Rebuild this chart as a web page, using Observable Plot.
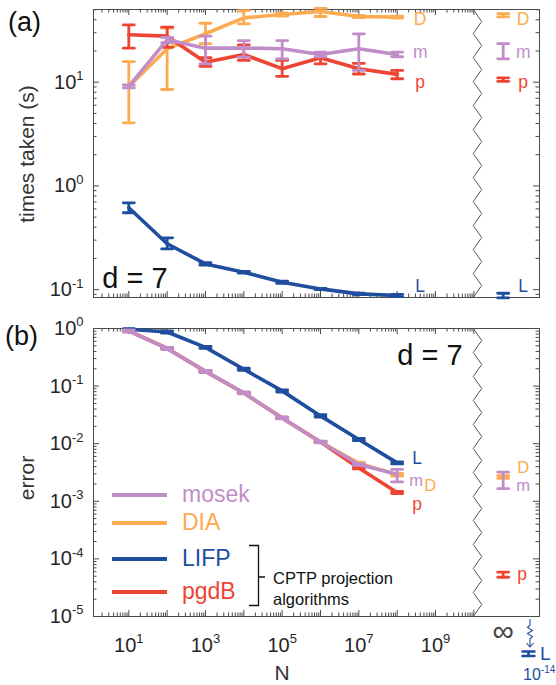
<!DOCTYPE html>
<html><head><meta charset="utf-8">
<script src="https://cdn.jsdelivr.net/npm/d3@7"></script>
<script src="https://cdn.jsdelivr.net/npm/@observablehq/plot@0.6"></script>
<style>
body{margin:0;background:#fff;}
#wrap{position:relative;width:556px;height:685px;font-family:"Liberation Sans",Arial,sans-serif;overflow:hidden;background:#fff}
#wrap svg{position:absolute;left:0}
.ab{position:absolute;white-space:nowrap;line-height:1}
.c{transform:translate(-50%,-50%)}
.r{transform:translate(-50%,-50%) rotate(-90deg)}
</style></head><body><div id="wrap"></div>
<script>
// ---------- data ----------
const N = [1e1, 1e2, 1e3, 1e4, 1e5, 1e6, 1e7, 1e8];
const seriesNames = ["mosek", "DIA", "LIFP", "pgdB"];
const seriesShort = ["m", "D", "L", "p"];
const seriesColors = ["#c18dc8", "#fdab50", "#1f4e9e", "#ee4433"];

// (a) times taken (s)
const tMosek   = [9.1, 25.6, 21.3, 21.4, 21.0, 18.5, 21.0, 18.5];
const tMosekLo = [8.8, 24.0, 15.0, 17.4, 16.8, 17.6, 13.0, 17.6];
const tMosekHi = [9.4, 27.0, 27.8, 25.2, 25.2, 19.5, 29.3, 19.5];
const tDIA     = [9.1, 21.0, 29.3, 41.7, 45.0, 48.1, 43.0, 42.4];
const tDIALo   = [4.06, 8.5, 23.5, 36.5, 43.5, 43.0, 42.0, 41.5];
const tDIAHi   = [15.8, 33.2, 37.0, 49.0, 46.5, 51.5, 44.0, 43.3];
const tLIFP    = [0.615, 0.277, 0.177, 0.147, 0.118, 0.1016, 0.091, 0.0877];
const tLIFPLo  = [0.551, 0.247, 0.172, 0.144, 0.115, 0.100, 0.0895, 0.0855];
const tLIFPHi  = [0.687, 0.316, 0.182, 0.150, 0.121, 0.103, 0.0925, 0.0900];
const tPgdB    = [28.7, 27.8, 15.6, 18.5, 13.5, 17.2, 13.5, 11.9];
const tPgdBLo  = [21.3, 21.7, 14.2, 16.2, 11.4, 15.0, 12.0, 10.8];
const tPgdBHi  = [35.7, 33.9, 17.2, 22.9, 16.2, 19.0, 15.2, 13.0];
// (a) N = infinity column, order mosek, DIA, LIFP, pgdB
const tInf   = [19.5, 44.2, 0.0876, 10.6];
const tInfLo = [16.8, 42.6, 0.0832, 10.2];
const tInfHi = [23.5, 45.8, 0.0923, 11.0];

// (b) error
const eMosek   = [0.91, 0.45, 0.18, 0.076, 0.028, 0.0107, 0.00436, 0.00295];
const eMosekLo = [0.87, 0.43, 0.172, 0.073, 0.027, 0.0103, 0.0042, 0.00217];
const eMosekHi = [0.95, 0.47, 0.188, 0.079, 0.029, 0.0111, 0.0045, 0.00357];
const eDIA     = [0.91, 0.45, 0.18, 0.076, 0.028, 0.0107, 0.0046, 0.0029];
const eDIALo   = [0.88, 0.44, 0.175, 0.074, 0.0272, 0.0104, 0.0044, 0.00275];
const eDIAHi   = [0.94, 0.46, 0.185, 0.078, 0.0288, 0.011, 0.0048, 0.00305];
const eLIFP    = [0.97, 0.87, 0.47, 0.196, 0.0826, 0.0304, 0.0118, 0.00464];
const eLIFPLo  = [0.94, 0.83, 0.45, 0.188, 0.079, 0.029, 0.0113, 0.00445];
const eLIFPHi  = [0.99, 0.91, 0.49, 0.204, 0.086, 0.0318, 0.0123, 0.00484];
const ePgdB    = [0.91, 0.45, 0.18, 0.076, 0.028, 0.0107, 0.0038, 0.00142];
const ePgdBLo  = [0.88, 0.44, 0.175, 0.074, 0.0272, 0.0104, 0.00365, 0.00136];
const ePgdBHi  = [0.94, 0.46, 0.185, 0.078, 0.0288, 0.011, 0.00395, 0.00148];
// (b) N = infinity column, order mosek, DIA, pgdB  (LIFP reaches 1e-14, off the axis)
const eInfNames = ["mosek", "DIA", "pgdB"];
const eInf   = [0.00236, 0.00265, 5.3e-5];
const eInfLo = [0.00166, 0.0025, 4.8e-5];
const eInfHi = [0.0032, 0.0028, 5.9e-5];
const lifpInfLabel = "10^-14";

// axis ticks
const xTickLabels = [1e1, 1e3, 1e5, 1e7, 1e9];
const yTicksA = [0.1, 1, 10];
const yTicksB = [1e-5, 1e-4, 1e-3, 1e-2, 1e-1, 1];

// ---------- layout constants ----------
const W = 556, ML = 93, MR = 17;
const FW = W - ML - MR;
const xDomain = [10 ** 0.079, 10 ** 11.713];
const xInf = 10 ** 10.765;
const xBreak = 10 ** 10.095;

const sup = d => "10^" + Math.round(Math.log10(d));
const capShape = {draw(ctx, l) { ctx.moveTo(0, 0); ctx.lineTo(0, -l); }};

function rows(xs, v, lo, hi) { return xs.map((x, i) => ({x, v: v[i], lo: lo[i], hi: hi[i]})); }

function errMarks(r, color, line = true, lw = 3.6, bw = 2.8, cap = 11) {
  const m = [];
  if (line) m.push(Plot.line(r, {x: "x", y: "v", stroke: color, strokeWidth: lw, strokeLinejoin: "round"}));
  m.push(Plot.ruleX(r, {x: "x", y1: "lo", y2: "hi", stroke: color, strokeWidth: bw}));
  m.push(Plot.vector(r, {x: "x", y: "lo", length: cap, rotate: 90, anchor: "middle", shape: capShape, stroke: color, strokeWidth: bw}));
  m.push(Plot.vector(r, {x: "x", y: "hi", length: cap, rotate: 90, anchor: "middle", shape: capShape, stroke: color, strokeWidth: bw}));
  return m;
}

function decadeMinors(lo, hi) {
  const out = [];
  for (let k = lo; k <= hi; k++) for (let j = 2; j <= 9; j++) out.push(j * 10 ** k);
  return out;
}
function decades(lo, hi) { const o = []; for (let k = lo; k <= hi; k++) o.push(10 ** k); return o; }

function frameTicks(yDom, FH, yMaj, yMin) {
  const xMaj = decades(1, 10), xMin = decadeMinors(0, 9);
  const inY = yMin.filter(v => v > yDom[0] && v < yDom[1]);
  const st = {stroke: "#4a4a4a", strokeWidth: 1};
  return [
    Plot.tickY(yMaj, {y: d => d, insetRight: FW - 6, ...st}),
    Plot.tickY(inY, {y: d => d, insetRight: FW - 3.5, ...st}),
    Plot.tickY(yMaj, {y: d => d, insetLeft: FW - 6, ...st}),
    Plot.tickY(inY, {y: d => d, insetLeft: FW - 3.5, ...st}),
    Plot.tickX(xMaj, {x: d => d, insetBottom: FH - 6, ...st}),
    Plot.tickX(xMin, {x: d => d, insetBottom: FH - 3.5, ...st}),
    Plot.tickX(xMaj, {x: d => d, insetTop: FH - 6, ...st}),
    Plot.tickX(xMin, {x: d => d, insetTop: FH - 3.5, ...st}),
    Plot.frame({stroke: "#4a4a4a", strokeWidth: 1})
  ];
}

function zigzag(yDom) {
  const a = Math.log10(yDom[0]), b = Math.log10(yDom[1]);
  const pts = [];
  for (let i = 0; i <= 24; i++) pts.push({x: xBreak * 10 ** (i % 2 ? 0.11 : -0.11), y: 10 ** (b - i * (b - a) / 24)});
  return Plot.line(pts, {x: "x", y: "y", stroke: "#555", strokeWidth: 1});
}

function superscriptify(svg) {
  d3.select(svg).selectAll("text").each(function () {
    const m = /^10\^(-?\d+)$/.exec(this.textContent);
    if (!m) return;
    const s = d3.select(this);
    s.text("");
    s.append("tspan").text("10");
    s.append("tspan").attr("dy", "-8.5").attr("font-size", "13px").text(m[1]);
  });
}

const style = {fontFamily: "Liberation Sans, Arial, sans-serif", fontSize: "20px", color: "#262626", background: "transparent", overflow: "visible"};
const LFS = 17.5;

// ---------- panel (a) ----------
const HA = 300, MTA = 9, MBA = 3;
const yDomA = [10 ** -1.076, 10 ** 1.701];
const tSeries = [
  [tMosek, tMosekLo, tMosekHi], [tDIA, tDIALo, tDIAHi], [tLIFP, tLIFPLo, tLIFPHi], [tPgdB, tPgdBLo, tPgdBHi]
];
const drawOrder = [1, 3, 2, 0]; // DIA, pgdB, LIFP, mosek on top
const marksA = [...frameTicks(yDomA, HA - MTA - MBA, yTicksA, decadeMinors(-2, 1)), zigzag(yDomA)];
for (const i of drawOrder) {
  const [v, lo, hi] = tSeries[i];
  marksA.push(...errMarks(rows(N, v, lo, hi), seriesColors[i]));
  marksA.push(...errMarks([{x: xInf, v: tInf[i], lo: tInfLo[i], hi: tInfHi[i]}], seriesColors[i], false));
}
const labDyA = {m: -2, D: 2, L: -9, p: 8};
const labDyAInf = {m: 0, D: 4, L: -9, p: 3};
seriesShort.forEach((s, i) => {
  marksA.push(Plot.text([s], {x: () => N[7], y: () => tSeries[i][0][7], text: d => d, dx: 23, dy: labDyA[s], fill: seriesColors[i], fontSize: LFS}));
  marksA.push(Plot.text([s], {x: () => xInf, y: () => tInf[i], text: d => d, dx: 20, dy: labDyAInf[s], fill: seriesColors[i], fontSize: LFS}));
});
marksA.push(Plot.axisY({ticks: yTicksA, tickSize: 0, tickPadding: 10, tickFormat: sup, label: null}));

const plotA = Plot.plot({
  width: W, height: HA, marginLeft: ML, marginRight: MR, marginTop: MTA, marginBottom: MBA,
  style,
  x: {type: "log", domain: xDomain, axis: null},
  y: {type: "log", domain: yDomA, axis: null},
  marks: marksA
});

// ---------- panel (b) ----------
const HB = 385, MTB = 28, MBB = 69;
const yDomB = [1e-5, 1];
const eSeries = [
  [eMosek, eMosekLo, eMosekHi], [eDIA, eDIALo, eDIAHi], [eLIFP, eLIFPLo, eLIFPHi], [ePgdB, ePgdBLo, ePgdBHi]
];
const marksB = [...frameTicks(yDomB, HB - MTB - MBB, yTicksB, decadeMinors(-5, -1)), zigzag(yDomB)];
for (const i of drawOrder) {
  const [v, lo, hi] = eSeries[i];
  marksB.push(...errMarks(rows(N, v, lo, hi), seriesColors[i]));
  const j = eInfNames.indexOf(seriesNames[i]);
  if (j >= 0) marksB.push(...errMarks([{x: xInf, v: eInf[j], lo: eInfLo[j], hi: eInfHi[j]}], seriesColors[i], false));
}
const labOffB = {m: [19, 6], D: [33, 11], L: [20, -5], p: [20, 12]};
const labOffBInf = {m: [20, 6], D: [20, -9], p: [19, 0]};
const labFsB = {m: 16.5, D: 16.5, L: 17.5, p: 17.5};
seriesShort.forEach((s, i) => {
  marksB.push(Plot.text([s], {x: () => N[7], y: () => eSeries[i][0][7], text: d => d, dx: labOffB[s][0], dy: labOffB[s][1], fill: seriesColors[i], fontSize: labFsB[s]}));
  const j = eInfNames.indexOf(seriesNames[i]);
  if (j >= 0) marksB.push(Plot.text([s], {x: () => xInf, y: () => eInf[j], text: d => d, dx: labOffBInf[s][0], dy: labOffBInf[s][1], fill: seriesColors[i], fontSize: labFsB[s]}));
});
marksB.push(Plot.axisY({ticks: yTicksB, tickSize: 0, tickPadding: 10, tickFormat: sup, label: null}));
marksB.push(Plot.axisX({ticks: xTickLabels, tickSize: 0, tickPadding: 21, tickFormat: sup, label: null}));
marksB.push(Plot.text(["∞"], {x: () => xInf, frameAnchor: "bottom", dy: 24, text: d => d, fontSize: 30, fill: "#444"}));

const plotB = Plot.plot({
  width: W, height: HB, marginLeft: ML, marginRight: MR, marginTop: MTB, marginBottom: MBB,
  style,
  x: {type: "log", domain: xDomain, axis: null},
  y: {type: "log", domain: yDomB, axis: null},
  marks: marksB
});

superscriptify(plotA);
superscriptify(plotB);

const wrap = document.getElementById("wrap");
plotA.style.top = "0px";
plotB.style.top = "300px";
wrap.appendChild(plotA);
wrap.appendChild(plotB);

// ---------- annotations ----------
function addDiv(html, css, cls = "ab") {
  const d = document.createElement("div");
  d.className = cls;
  d.innerHTML = html;
  Object.assign(d.style, css);
  wrap.appendChild(d);
  return d;
}
addDiv("(a)", {left: "8px", top: "9px", fontSize: "27px", color: "#111"});
addDiv("(b)", {left: "5px", top: "323px", fontSize: "27px", color: "#111"});
addDiv("times taken (s)", {left: "26px", top: "154px", fontSize: "21px", color: "#333"}, "ab r");
addDiv("error", {left: "26px", top: "478px", fontSize: "21px", color: "#333"}, "ab r");
addDiv("N", {left: "282px", top: "672px", fontSize: "21px", color: "#333"}, "ab c");
addDiv("d = 7", {left: "135px", top: "278px", fontSize: "29px", color: "#111"}, "ab c");
addDiv("d = 7", {left: "430px", top: "355px", fontSize: "29px", color: "#111"}, "ab c");

// legend
const legY = [495, 523.3, 559.3, 591.7];
seriesNames.forEach((n, i) => {
  addDiv("", {left: "112px", top: (legY[i] - 2) + "px", width: "55px", height: "4px", background: seriesColors[i]});
  addDiv(n, {left: "182px", top: (legY[i] - 12) + "px", fontSize: "23px", color: seriesColors[i]});
});
addDiv("CPTP projection", {left: "273px", top: "570px", fontSize: "16.5px", color: "#111"});
addDiv("algorithms", {left: "273px", top: "591px", fontSize: "16.5px", color: "#111"});

// bracket + LIFP infinity annotation (small svg overlay)
const ns = "http://www.w3.org/2000/svg";
const ov = document.createElementNS(ns, "svg");
ov.setAttribute("width", W); ov.setAttribute("height", 685);
ov.style.position = "absolute"; ov.style.left = "0"; ov.style.top = "0"; ov.style.pointerEvents = "none";
wrap.appendChild(ov);
function path(d, stroke, sw) {
  const p = document.createElementNS(ns, "path");
  p.setAttribute("d", d); p.setAttribute("stroke", stroke); p.setAttribute("stroke-width", sw); p.setAttribute("fill", "none");
  ov.appendChild(p);
}
path("M249,545.5H258.5V605.5H249M258.5,577H265", "#111", 1.3);
const blue = seriesColors[2];
path("M530,619V625L527.5,627.5L532.5,630.5L527.5,633.5L532.5,636.5L530,639V647M526.5,643L530,647L533.5,643", blue, 1.1);
path("M521.5,651.5H535.5M521.5,656H535.5M528.5,651.5V656", blue, 2.6);
addDiv("L", {left: "540px", top: "644px", fontSize: "19px", color: blue});
addDiv("10<sup style='font-size:10px;vertical-align:7px'>" + lifpInfLabel.slice(3) + "</sup>", {left: "523px", top: "665px", fontSize: "16px", color: blue});
</script></body></html>
